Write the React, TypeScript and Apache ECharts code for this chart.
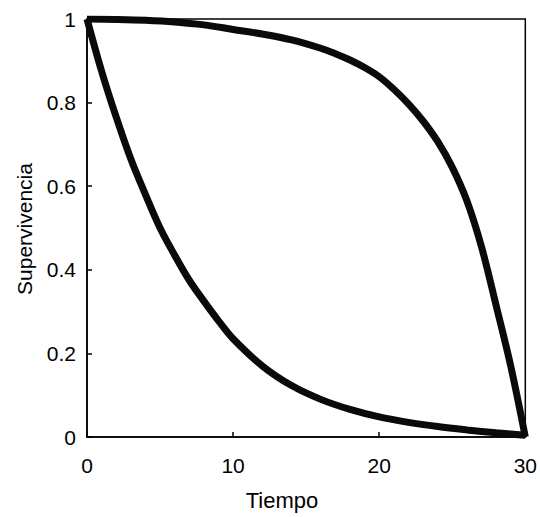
import React, { useEffect, useRef } from "react";
import * as echarts from "echarts";

const xTicks = [0, 10, 20, 30];
const yTicks = [0, 0.2, 0.4, 0.6, 0.8, 1];
const xTitle = "Tiempo";
const yTitle = "Supervivencia";

// Upper curve (late mortality)
const upperT = [0, 2, 4, 6, 8, 10, 12, 14, 16, 17, 18, 19, 20, 21, 22, 23, 24, 25, 26, 27, 28, 29, 30];
const upperS = [1, 0.999, 0.997, 0.993, 0.986, 0.975, 0.964, 0.95, 0.93, 0.917, 0.902, 0.884, 0.862, 0.832, 0.797, 0.756, 0.707, 0.645, 0.565, 0.455, 0.315, 0.17, 0];

// Lower curve (early mortality)
const lowerT = [0, 1, 2, 3, 4, 5, 6, 7, 8, 9, 10, 12, 14, 16, 18, 20, 22, 24, 26, 28, 30];
const lowerS = [1, 0.875, 0.765, 0.665, 0.58, 0.5, 0.435, 0.375, 0.325, 0.278, 0.235, 0.17, 0.123, 0.09, 0.066, 0.048, 0.035, 0.025, 0.017, 0.01, 0.004];

const FONT = "'Liberation Sans', Arial, sans-serif";

export default function App() {
  const ref = useRef<HTMLDivElement>(null);
  useEffect(() => {
    if (!ref.current) return;
    const chart = echarts.init(ref.current, undefined, { renderer: "svg" });
    const pairs = (t: number[], s: number[]) => t.map((v, i) => [v, s[i]]);
    chart.setOption({
      animation: false,
      backgroundColor: "#ffffff",
      grid: {
        left: 87,
        top: 19,
        width: 440,
        height: 418,
        show: true,
        borderColor: "#000",
        borderWidth: 1.5,
        backgroundColor: "transparent",
      },
      xAxis: {
        type: "value",
        min: xTicks[0],
        max: xTicks[xTicks.length - 1],
        interval: 10,
        axisLine: { show: true, lineStyle: { color: "#000", width: 1.5 } },
        axisTick: { show: true, inside: true, length: 5, lineStyle: { color: "#000", width: 1.5 } },
        axisLabel: { color: "#000", fontSize: 21, fontFamily: FONT, margin: 18 },
        splitLine: { show: false },
      },
      yAxis: {
        type: "value",
        min: yTicks[0],
        max: yTicks[yTicks.length - 1],
        interval: 0.2,
        axisLine: { show: true, lineStyle: { color: "#000", width: 1.5 } },
        axisTick: { show: true, inside: true, length: 5, lineStyle: { color: "#000", width: 1.5 } },
        axisLabel: { color: "#000", fontSize: 21, fontFamily: FONT, margin: 11 },
        splitLine: { show: false },
      },
      graphic: [
        {
          type: "text",
          x: 282,
          y: 500,
          style: {
            text: xTitle,
            fill: "#000",
            font: `22px ${FONT}`,
            textAlign: "center",
            textVerticalAlign: "middle",
          },
        },
        {
          type: "text",
          x: 24,
          y: 229,
          rotation: Math.PI / 2,
          style: {
            text: yTitle,
            fill: "#000",
            font: `21px ${FONT}`,
            textAlign: "center",
            textVerticalAlign: "middle",
          },
        },
      ],
      series: [
        {
          type: "line",
          data: pairs(upperT, upperS),
          smooth: 0.35,
          showSymbol: false,
          lineStyle: { color: "#0a0a0a", width: 7 },
        },
        {
          type: "line",
          data: pairs(lowerT, lowerS),
          smooth: 0.35,
          showSymbol: false,
          lineStyle: { color: "#0a0a0a", width: 7 },
        },
      ],
    });
    return () => chart.dispose();
  }, []);
  return (
    <div
      ref={ref}
      style={{ position: "absolute", left: 0, top: 0, width: 540, height: 517, background: "#fff" }}
    />
  );
}
